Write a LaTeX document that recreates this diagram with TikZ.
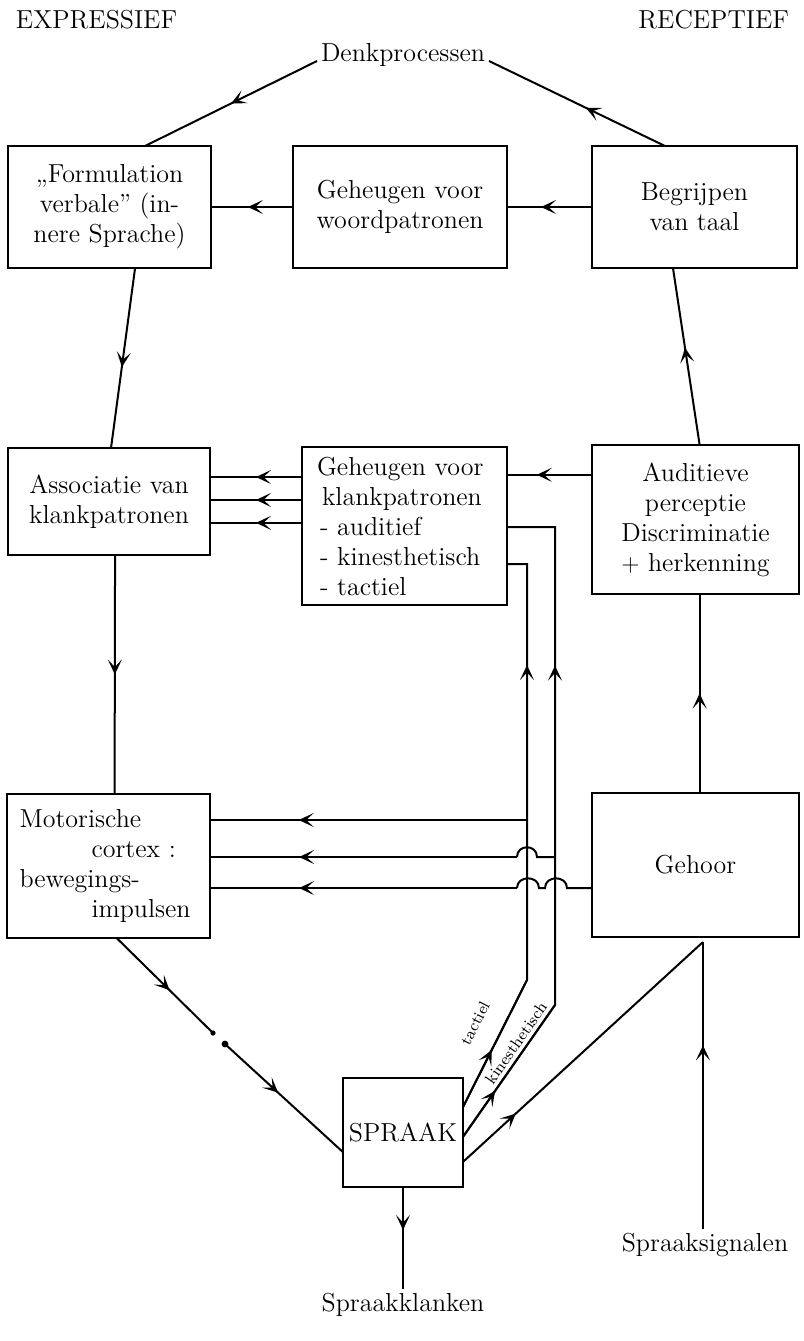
\documentclass[tikz,border=0pt]{standalone}
\usetikzlibrary{arrows.meta,decorations.markings,calc}
\begin{document}
\begin{tikzpicture}[x=0.5pt,y=-0.5pt,line width=1pt,
  box/.style={draw, line width=1pt, inner sep=0pt, outer sep=0pt, align=center, font=\fontsize{13}{15}\selectfont},
  lbl/.style={font=\fontsize{13}{15}\selectfont, inner sep=1.5pt},
  small/.style={font=\fontsize{8}{9}\selectfont, inner sep=0pt},
  marr/.style={postaction={decorate,decoration={markings,mark=at position #1 with {\arrow{Stealth[length=7.5pt,width=7pt,inset=3.8pt]}}}}},
  dotm/.style={fill, circle, inner sep=0pt, minimum size=2.6pt}
]
\useasboundingbox (0,0) rectangle (804,1341);
% headings
\node[lbl, anchor=west] (expr) at (12,20) {EXPRESSIEF};
\node[lbl, anchor=east] (rec) at (793,20) {RECEPTIEF};
\node[lbl] (denk) at (403,55) {Denkprocessen};
% boxes
\node[box, minimum width=101.5pt, minimum height=61pt] (form) at (109.5,207) {„Formulation\\verbale” (in-\\nere Sprache)};
\node[box, minimum width=107pt, minimum height=61pt] (gw) at (400,207) {Geheugen voor\\woordpatronen};
\node[box, minimum width=102.5pt, minimum height=61pt] (beg) at (694.5,207) {Begrijpen\\van taal};
\node[box, minimum width=101pt, minimum height=53.5pt] (assoc) at (109,501.5) {Associatie van\\klankpatronen};
\node[box, minimum width=102.5pt, minimum height=79pt, align=left, text width=87.5pt, inner xsep=7.5pt] (gk) at (404.5,526) {Geheugen voor\\\hspace*{2.5pt}klankpatronen\\\hspace*{1.5pt}- auditief\\\hspace*{1.5pt}- kinesthetisch\\\hspace*{1.5pt}- tactiel};
\node[box, minimum width=103.5pt, minimum height=74.5pt] (aud) at (695.5,519.5) {Auditieve\\perceptie\\Discriminatie\\$+$ herkenning};
\node[box, minimum width=101.5pt, minimum height=72pt, align=left, text width=89pt, inner xsep=6.25pt] (mot) at (108.5,866) {Motorische\\\hspace*{36pt}cortex :\\bewegings-\\\hspace*{36pt}impulsen};
\node[box, minimum width=103.5pt, minimum height=72pt] (geh) at (695.5,865) {Gehoor};
\node[box, minimum width=60pt, minimum height=54.5pt] (spraak) at (403,1132.5) {SPRAAK};
\node[lbl] (klank) at (403,1305) {Spraakklanken};
\node[lbl] (sign) at (705,1245) {Spraaksignalen};
% top cycle
\draw[marr=0.5] ([yshift=-3pt]denk.west) -- ($(form.north west)!0.675!(form.north east)$);
\draw[marr=0.45] ($(beg.north west)!0.356!(beg.north east)$) -- ([yshift=-3pt]denk.east);
\draw[marr=0.6] (beg.west) -- (gw.east);
\draw[marr=0.55] (gw.west) -- (form.east);
\draw[marr=0.55] ($(form.south west)!0.626!(form.south east)$) -- ($(assoc.north west)!0.51!(assoc.north east)$);
\draw[marr=0.55] ($(aud.north west)!0.52!(aud.north east)$) -- ($(beg.south west)!0.395!(beg.south east)$);
% middle row
\coordinate (a1) at ($(aud.north west)!0.2!(aud.south west)$);
\draw[marr=0.65] (a1) -- (gk.east |- a1);
\coordinate (g1) at ($(gk.north west)!0.19!(gk.south west)$);
\coordinate (g2) at ($(gk.north west)!0.335!(gk.south west)$);
\coordinate (g3) at ($(gk.north west)!0.48!(gk.south west)$);
\draw[marr=0.5] (g1) -- (assoc.east |- g1);
\draw[marr=0.5] (g2) -- (assoc.east |- g2);
\draw[marr=0.5] (g3) -- (assoc.east |- g3);
\draw[marr=0.5] ($(assoc.south west)!0.53!(assoc.south east)$) -- ($(mot.north west)!0.53!(mot.north east)$);
\draw[marr=0.5] ($(geh.north west)!0.52!(geh.north east)$) -- ($(aud.south west)!0.52!(aud.south east)$);
% motor to speech
\coordinate (d1) at (213,1033);
\coordinate (d2) at (225,1044);
\draw[marr=0.55] ($(mot.south west)!0.54!(mot.south east)$) -- (d1);
\draw[marr=0.45] (d2) -- ($(spraak.north west)!0.68!(spraak.south west)$);
\node[dotm] (dot1) at (d1) {};
\node[dotm, minimum size=3.4pt] (dot2) at (d2) {};
% speech out
\draw[marr=0.42] (spraak.south) -- (klank.north);
% feedback paths
\coordinate (s1) at ($(spraak.north east)!0.266!(spraak.south east)$);
\coordinate (s2) at ($(spraak.north east)!0.54!(spraak.south east)$);
\coordinate (s3) at ($(spraak.north east)!0.77!(spraak.south east)$);
\coordinate (tb) at (527,980);
\coordinate (kb) at (555,1005);
\coordinate (tt) at (527,564);
\coordinate (kt) at (555,527);
\coordinate (J) at ($(geh.south west)!0.536!(geh.south east)+(0,5)$);
\draw (s1) -- (tb) -- (tt) -- (gk.east |- tt);
\draw (s2) -- (kb) -- (kt) -- (gk.east |- kt);
\draw[marr=0.45] (s1) -- (tb);
\draw[marr=0.35] (s2) -- (kb);
\draw[marr=0.757] (tb) -- (tt);
\draw[marr=0.71] (kb) -- (kt);
\draw[marr=0.22] (s3) -- (J);
\draw[marr=0.64] (sign.north -| J) -- (J);
\node[small, rotate=63] (tlab) at (475,1023) {tactiel};
\node[small, rotate=55] (klab) at (516,1043) {kinesthetisch};
% horizontal lines to motor cortex
\coordinate (m1) at (527,820);
\draw[marr=0.72] (m1) -- (mot.east |- m1);
\coordinate (m2) at (555,857);
\draw (m2) -- ++(-18,0) .. controls +(0,-13) and +(0,-13) .. ++(-20,0) coordinate (m2h);
\draw[marr=0.71] (m2h) -- (mot.east |- m2);
\coordinate (m3) at ($(geh.north west)!0.66!(geh.south west)$);
\draw (m3) -- ++(-25,0) .. controls +(0,-13) and +(0,-13) .. ++(-22,0) -- ++(-6,0) .. controls +(0,-13) and +(0,-13) .. ++(-22,0) coordinate (m3h);
\draw[marr=0.71] (m3h) -- (mot.east |- m3);
\end{tikzpicture}
\end{document}
